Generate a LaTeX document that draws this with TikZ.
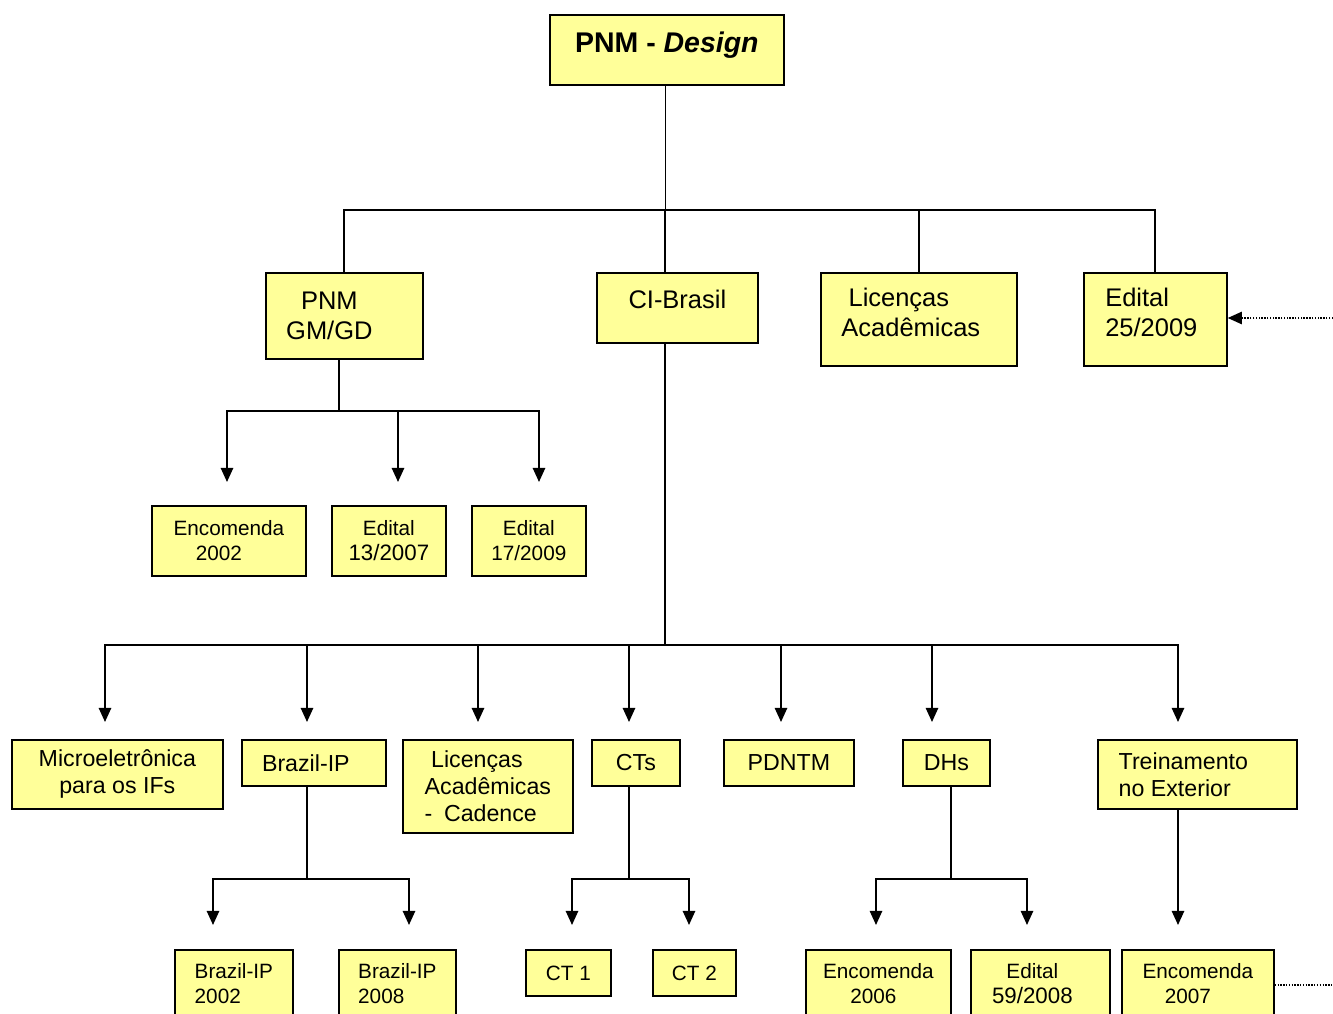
\documentclass[tikz,border=0pt]{standalone}
\usepackage{fontspec}
\setmainfont{Liberation Sans}
\usetikzlibrary{arrows.meta}
\definecolor{boxfill}{RGB}{255,255,153}

\tikzset{
  conn/.style={line width=1pt},
  arr/.style={line width=1pt,-{Triangle[width=7pt,length=8pt]}},
  dotline/.style={line width=0.8pt,dash pattern=on 0.8pt off 0.8pt},
  big/.style={font=\fontsize{14.5}{17.2}\selectfont},
  mid/.style={font=\fontsize{13.2}{15.4}\selectfont},
  small/.style={font=\fontsize{11.8}{14.2}\selectfont}
}

\begin{document}
\begin{tikzpicture}[x=0.02cm,y=-0.02cm]

  \useasboundingbox (0,0) rectangle (1333,1014);
  \clip (0,0) rectangle (1333,1014);

  \begin{scope}[every node/.style={draw,fill=boxfill,line width=1pt,anchor=north west,inner sep=0pt,align=center}]
    \node[minimum width=4.68cm,minimum height=1.40cm,text depth=9pt,font=\fontsize{16.2}{19}\selectfont] (top) at (549,14) {\textbf{PNM - \textit{Design}}};

    \node[big,minimum width=3.14cm,minimum height=1.72cm] (gm)   at (265,272)  {PNM\hspace*{0.6cm}\\GM/GD\hspace*{0.6cm}};
    \node[big,minimum width=3.22cm,minimum height=1.40cm,text depth=10pt] (ci) at (596,272) {CI-Brasil};
    \node[big,minimum width=3.92cm,minimum height=1.86cm,text depth=8pt] (lic) at (820,272) {Licenças\hspace*{0.8cm}\\Acadêmicas\hspace*{0.32cm}};
    \node[big,minimum width=2.86cm,minimum height=1.86cm,text depth=8pt,align=left] (ed25) at (1083,272) {Edital\\25/2009\hspace*{0.16cm}};

    \node[small,minimum width=3.08cm,minimum height=1.40cm] (enc02) at (151,505) {Encomenda\\2002\hspace*{0.4cm}};
    \node[small,minimum width=2.28cm,minimum height=1.40cm] (ed13)  at (331,505) {Edital\\{\fontsize{12.7}{15}\selectfont 13/2007}};
    \node[small,minimum width=2.28cm,minimum height=1.40cm] (ed17)  at (471,505) {Edital\\17/2009};

    \node[mid,minimum width=4.22cm,minimum height=1.38cm] (micro) at (11,739)   {Microeletrônica\\para os IFs};
    \node[mid,minimum width=2.88cm,minimum height=0.92cm] (bip)   at (241,739)  {Brazil-IP\hspace*{0.32cm}};
    \node[mid,minimum width=3.40cm,minimum height=1.86cm,align=left] (licc) at (402,739) {\ Licenças\\Acadêmicas\\-\enspace Cadence};
    \node[mid,minimum width=1.76cm,minimum height=0.92cm] (cts)   at (591,739)  {CTs};
    \node[mid,minimum width=2.60cm,minimum height=0.92cm] (pdntm) at (723,739)  {PDNTM};
    \node[mid,minimum width=1.74cm,minimum height=0.92cm] (dhs)   at (902,739)  {DHs};
    \node[mid,minimum width=3.98cm,minimum height=1.38cm,align=left] (trein) at (1097,739) {Treinamento\hspace*{0.56cm}\\no Exterior};

    \begin{scope}[every node/.append style={text depth=7pt}]
      \node[small,minimum width=2.36cm,minimum height=1.60cm,align=left] (bip02) at (174,949) {Brazil-IP\\2002};
      \node[small,minimum width=2.34cm,minimum height=1.60cm,align=left] (bip08) at (338,949) {Brazil-IP\\2008};
      \node[small,minimum width=2.90cm,minimum height=1.60cm] (enc06) at (805,949)  {Encomenda\\2006\hspace*{0.2cm}};
      \node[small,minimum width=2.78cm,minimum height=1.60cm] (ed59)  at (970,949)  {Edital\hspace*{0.32cm}\\{\fontsize{12.7}{15}\selectfont 59/2008}\hspace*{0.32cm}};
      \node[small,minimum width=3.04cm,minimum height=1.60cm] (enc07) at (1121,949) {Encomenda\\2007\hspace*{0.4cm}};
    \end{scope}
    \node[small,minimum width=1.70cm,minimum height=0.92cm] (ct1)   at (525,949)  {CT 1};
    \node[small,minimum width=1.66cm,minimum height=0.92cm] (ct2)   at (652,949)  {CT 2};
  \end{scope}

  % first level
  \coordinate (t0) at (665,210);
  \draw[line width=0.5pt] (t0 |- top.south) -- (t0);
  \draw[conn] (gm.north) |- (t0) -| (ed25.north);
  \draw[conn] (t0) -- (t0 |- ci.north);
  \draw[conn] (lic.north) -- (lic.north |- t0);

  % PNM GM/GD
  \coordinate (g0) at (339,411);
  \draw[conn] (g0 |- gm.south) -- (g0);
  \foreach \x [count=\i] in {227,398,539} {
    \coordinate (g\i) at (\x,482);
    \draw[arr] (g0) -| (g\i);
  }

  % CI-Brasil
  \coordinate (c0) at (665,645);
  \draw[conn] (c0 |- ci.south) -- (c0);
  \foreach \x [count=\i] in {105,307,478,629,781,932,1178} {
    \coordinate (c\i) at (\x,722);
    \draw[arr] (c0) -| (c\i);
  }

  % Brazil-IP
  \coordinate (b0) at (307,879);
  \draw[conn] (b0 |- bip.south) -- (b0);
  \foreach \x [count=\i] in {213,409} {
    \coordinate (b\i) at (\x,925);
    \draw[arr] (b0) -| (b\i);
  }

  % CTs
  \coordinate (k0) at (629,879);
  \draw[conn] (k0 |- cts.south) -- (k0);
  \foreach \x [count=\i] in {572,689} {
    \coordinate (k\i) at (\x,925);
    \draw[arr] (k0) -| (k\i);
  }

  % DHs
  \coordinate (h0) at (951,879);
  \draw[conn] (h0 |- dhs.south) -- (h0);
  \foreach \x [count=\i] in {876,1027} {
    \coordinate (h\i) at (\x,925);
    \draw[arr] (h0) -| (h\i);
  }

  % Treinamento
  \coordinate (x1) at (1178,925);
  \draw[arr] (x1 |- trein.south) -- (x1);

  % dotted links
  \coordinate (d1) at (1333,318);
  \draw[dotline,-{Triangle[width=7pt,length=8pt]}] (d1) -- (ed25.east |- d1);
  \coordinate (d2) at (1333,985);
  \draw[dotline] (enc07.east |- d2) -- (d2);

\end{tikzpicture}
\end{document}
